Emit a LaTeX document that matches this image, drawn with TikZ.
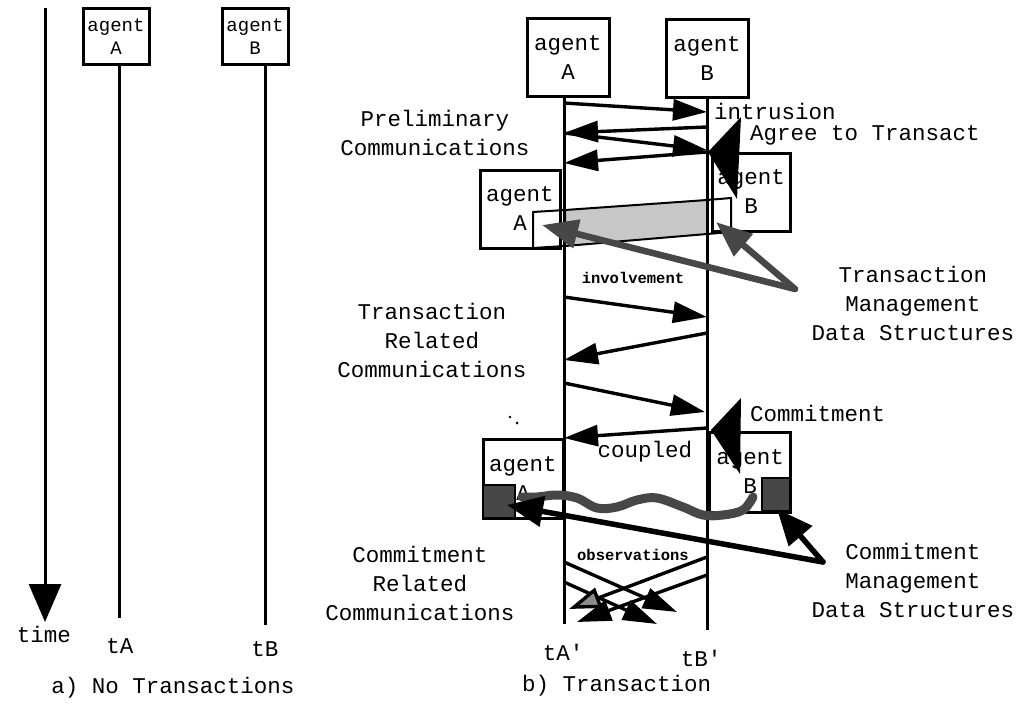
\documentclass[tikz,border=0pt]{standalone}
\usepackage{fontspec}
\setmainfont{Liberation Mono}[Ligatures=TeXOff]
\usetikzlibrary{arrows.meta}
\begin{document}
\begin{tikzpicture}[x=1pt,y=-1pt,
  every node/.style={inner sep=0pt, align=center, font=\fontsize{22.5}{29}\selectfont},
  agentbox/.style={draw, fill=white, line width=3pt, minimum width=82pt, minimum height=78pt},
  oldagent/.style={draw, fill=white, line width=3pt, minimum width=66pt, minimum height=56pt, font=\fontsize{19}{23}\selectfont},
  life/.style={line width=3pt},
  msg/.style={line width=3.4pt, -{Triangle[length=34pt,width=21pt]}},
  boldtxt/.style={font=\bfseries\fontsize{15.5}{18}\selectfont},
  innerrect/.style={draw, line width=2pt},
  lightfill/.style={fill=black!22},
  darkfill/.style={fill=black!72},
  darkarrow/.style={draw=black!72, line width=6.5pt, line cap=round, -{Triangle[length=36pt,width=28pt]}},
  solidarrow/.style={draw=black, line width=5.5pt, line cap=round, -{Triangle[length=36pt,width=30pt]}},
]
\useasboundingbox (0,0) rectangle (1021,709);

% ---------- a) no transactions ----------
\coordinate (t0) at (45,8);
\coordinate (t1) at (45,622);
\draw[life, -{Triangle[length=38pt,width=32pt]}] (t0) -- (t1);
\node (time) at (44,634) {time};

\node[oldagent] (la) at (116,37) {agent\\A};
\node[oldagent] (lb) at (255,37) {agent\\B};
\coordinate (laEnd) at (119,618);
\coordinate (lbEnd) at (265,625);
\draw[life] (la.south -| laEnd) -- (laEnd);
\draw[life] (lb.south -| lbEnd) -- (lbEnd);
\node (tA) at (120,646) {tA};
\node (tB) at (265,649) {tB};
\node (capA) at (173,688) {a) No Transactions};

% ---------- b) transaction ----------
\node[agentbox] (A1) at (568,58) {agent\\A};
\node[agentbox] (B1) at (707,59) {agent\\B};
\coordinate (aTop) at (564,98);
\coordinate (aEnd) at (564,624);
\coordinate (bTop) at (707,98);
\coordinate (bEnd) at (707,630);
\draw[life] (aTop) -- (aEnd);
\draw[life] (bTop) -- (bEnd);

% preliminary communications
\coordinate (a1) at (564,103); \coordinate (b1) at (707,112);
\coordinate (b2) at (707,127); \coordinate (a2) at (564,133);
\coordinate (b3) at (707,150);
\coordinate (b4) at (707,152); \coordinate (a4) at (564,163);
\draw[msg] (a1) -- (b1);
\draw[msg] (b2) -- (a2);
\draw[msg] (a2) -- (b3);
\draw[msg] (b4) -- (a4);

\node (prelim) at (435,133) {Preliminary\\Communications};
\node[anchor=west] (intr) at (714,111) {intrusion};
\node[anchor=west] (agree) at (750,135) {Agree to Transact};

% agents holding transaction management data
\node[agentbox, minimum width=80pt] (A2) at (520,209) {agent\\A};
\node[agentbox, minimum width=78pt] (B2) at (751,192) {agent\\B};
\draw[innerrect] (533,248) -- (533,212) -- (565,210);
\draw[innerrect, lightfill] (565,210) -- (707,200) -- (707,234) -- (565,246) -- cycle;
\draw[innerrect] (565,246) -- (533,248);
\draw[innerrect] (707,200) -- (731,198) -- (731,232) -- (707,234);

% agree to transact wedge
\fill (708,152) -- (741,117) -- (737,199) -- cycle;

% transaction management data structures
\coordinate (tm) at (795,289);
\coordinate (tmA) at (542,225);
\coordinate (tmB) at (716,222);
\draw[darkarrow] (tm) -- (tmA);
\draw[darkarrow] (tm) -- (tmB);
\node (tmds) at (913,303) {Transaction\\Management\\Data Structures};

% transaction related communications
\node[boldtxt] (inv) at (633,278) {involvement};
\coordinate (a5) at (564,297); \coordinate (b5) at (707,317);
\coordinate (b6) at (707,333); \coordinate (a6) at (564,360);
\coordinate (a7) at (564,383); \coordinate (b7) at (705,412);
\coordinate (b8) at (707,428); \coordinate (a8) at (564,438);
\draw[msg] (a5) -- (b5);
\draw[msg] (b6) -- (a6);
\draw[msg] (a7) -- (b7);
\draw[msg] (b8) -- (a8);
\node (trc) at (432,340) {Transaction\\Related\\Communications};
\fill (510,417) circle (1.3pt) (517,423) circle (1.5pt);

% commitment
\node[anchor=west] (commit) at (750,413) {Commitment};
\node[agentbox, minimum width=80pt, minimum height=79pt] (A3) at (523,479) {agent\\A};
\node[agentbox, minimum width=81pt, minimum height=80pt] (B3) at (750,472) {agent\\B};
\fill (711,430) -- (741,398) -- (740,474) -- cycle;
\node (coupled) at (645,452) {coupled};
\draw[innerrect, darkfill] (483,485) rectangle (515,518);
\draw[innerrect, darkfill] (762,478) rectangle (790,511);
\draw[draw=black!72, line width=9pt, line cap=round] plot[smooth, tension=0.6] coordinates {
  (753,497) (743,510) (723,515) (703,515) (683,507) (657,498) (637,500)
  (617,507) (597,508) (577,498) (557,495) (537,497) (522,497)};

% commitment management data structures
\coordinate (cm) at (823,562);
\coordinate (cmA) at (507,505);
\coordinate (cmB) at (777,509);
\draw[solidarrow] (cm) -- (cmA);
\draw[solidarrow] (cm) -- (cmB);
\node (cmds) at (913,580) {Commitment\\Management\\Data Structures};

% commitment related communications
\node[boldtxt] (obs) at (633,555) {observations};
\coordinate (a9) at (564,562); \coordinate (x9) at (677,612);
\coordinate (a10) at (564,582); \coordinate (x10) at (657,624);
\coordinate (b9) at (707,557); \coordinate (y9) at (569,609);
\coordinate (b10) at (707,575); \coordinate (y10) at (577,622);
\draw[msg] (a9) -- (x9);
\draw[msg] (a10) -- (x10);
\draw[line width=3.4pt, -{Triangle[length=32pt,width=21pt, fill=black!45]}] (b9) -- (y9);
\draw[msg] (b10) -- (y10);
\node (crc) at (420,583) {Commitment\\Related\\Communications};

\node (tA2) at (563,652) {tA'};
\node (tB2) at (701,658) {tB'};
\node[anchor=west] (capB) at (522,686) {b) Transaction};
\end{tikzpicture}
\end{document}
